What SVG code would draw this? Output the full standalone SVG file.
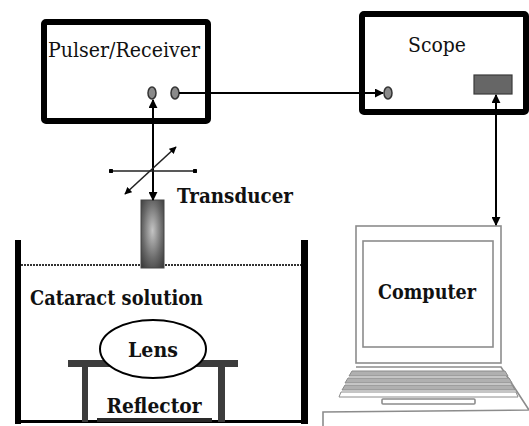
<svg xmlns="http://www.w3.org/2000/svg" width="529" height="426" viewBox="0 0 529 426">
  <style>
    text { font-family: "DejaVu Serif", serif; font-size: 21px; fill: #111; }
    .b { font-weight: bold; }
    .box { fill: #fff; stroke: #000; stroke-width: 6; }
    .wire { stroke: #000; stroke-width: 2; fill: none; }
    .port { fill: #8a8a8a; stroke: #333; stroke-width: 1.5; }
    .lap { fill: none; stroke: #8c8c8c; stroke-width: 1.6; }
    .wall { fill: #000; }
    .stand { fill: #3c3c3c; }
  </style>
  <defs>
    <marker id="arr" viewBox="0 0 10 10" refX="9" refY="5" markerWidth="4.5" markerHeight="4.5" orient="auto-start-reverse">
      <path d="M0,0 L10,5 L0,10 z" fill="#000"/>
    </marker>
    <marker id="dot" viewBox="0 0 10 10" refX="5" refY="5" markerWidth="3" markerHeight="3">
      <circle cx="5" cy="5" r="5" fill="#000"/>
    </marker>
    <radialGradient id="probe" cx="0.5" cy="0.45" r="0.7">
      <stop offset="0" stop-color="#c4c4c4"/>
      <stop offset="0.6" stop-color="#6a6a6a"/>
      <stop offset="1" stop-color="#3a3a3a"/>
    </radialGradient>
  </defs>

  <!-- instruments -->
  <g id="pulser-receiver">
    <rect class="box" x="44" y="22" width="164" height="99" rx="2"/>
    <text x="124" y="57" text-anchor="middle" textLength="152" lengthAdjust="spacingAndGlyphs">Pulser/Receiver</text>
    <ellipse class="port" cx="152" cy="93" rx="4" ry="6"/>
    <ellipse class="port" cx="175" cy="93" rx="4" ry="6"/>
  </g>

  <g id="scope">
    <rect class="box" x="362" y="14" width="164" height="98" rx="2"/>
    <text x="437" y="52" text-anchor="middle" textLength="58" lengthAdjust="spacingAndGlyphs">Scope</text>
    <ellipse class="port" cx="388" cy="93" rx="4" ry="6"/>
    <rect x="474" y="75" width="38" height="19" fill="#666" stroke="#3a3a3a" stroke-width="1.2"/>
  </g>

  <g id="computer">
    <rect class="lap" x="356" y="226" width="145" height="137"/>
    <rect class="lap" x="363" y="241" width="130" height="106"/>
    <text class="b" x="427" y="299" text-anchor="middle" textLength="98" lengthAdjust="spacingAndGlyphs">Computer</text>
    <!-- keyboard deck -->
    <path class="lap" d="M356,367 L501,367 L529,410 L323,412 L323,426"/>
    <path d="M352,371 L505,371 L508,376 L349,376 Z M348,378 L509,378 L512,383 L345,383 Z M345,385 L512,385 L515,390 L342,390 Z" fill="#b0b0b0" stroke="#8c8c8c" stroke-width="1"/>
    <path d="M341,392 L516,392 L518,397 L339,397 Z" fill="#fff" stroke="#8c8c8c" stroke-width="1"/>
    <rect class="lap" x="382" y="399" width="93" height="5" rx="1"/>
  </g>

  <!-- water tank -->
  <g id="tank">
    <rect class="wall" x="15" y="240" width="6" height="184"/>
    <rect class="wall" x="301" y="240" width="7" height="184"/>
    <rect class="wall" x="15" y="420" width="293" height="3"/>
    <line x1="21" y1="265" x2="301" y2="265" stroke="#333" stroke-width="2" stroke-dasharray="2 1"/>
    <text class="b" x="30" y="305" textLength="173" lengthAdjust="spacingAndGlyphs">Cataract solution</text>
  </g>

  <g id="transducer">
    <rect x="141" y="200" width="23" height="68" fill="url(#probe)" stroke="#444" stroke-width="1"/>
    <text class="b" x="177" y="203" textLength="116" lengthAdjust="spacingAndGlyphs">Transducer</text>
  </g>

  <g id="holder">
    <rect class="stand" x="68" y="360" width="170" height="7"/>
    <rect class="stand" x="82" y="367" width="6" height="55"/>
    <rect class="stand" x="218" y="367" width="7" height="55"/>
  </g>

  <g id="lens">
    <ellipse cx="153" cy="349" rx="53" ry="29" fill="#fff" stroke="#000" stroke-width="2"/>
    <text class="b" x="153" y="357" text-anchor="middle" textLength="50" lengthAdjust="spacingAndGlyphs">Lens</text>
  </g>

  <g id="reflector">
    <rect x="97" y="418" width="115" height="4" fill="#2a2a2a"/>
    <text class="b" x="154" y="413" text-anchor="middle" textLength="95" lengthAdjust="spacingAndGlyphs">Reflector</text>
  </g>

  <!-- connectors -->
  <g id="connectors">
    <line class="wire" x1="179" y1="93" x2="383" y2="93" marker-end="url(#arr)"/>
    <line class="wire" x1="153" y1="100" x2="153" y2="200" marker-start="url(#arr)" marker-end="url(#arr)"/>
    <line class="wire" x1="496" y1="95" x2="496" y2="225" marker-start="url(#arr)" marker-end="url(#arr)"/>
    <!-- positioning axes -->
    <line x1="111" y1="171" x2="195" y2="171" stroke="#222" stroke-width="1.6" marker-start="url(#dot)" marker-end="url(#dot)"/>
    <line x1="125" y1="194" x2="176" y2="147" stroke="#222" stroke-width="1.6" marker-start="url(#arr)" marker-end="url(#arr)"/>
  </g>
</svg>
